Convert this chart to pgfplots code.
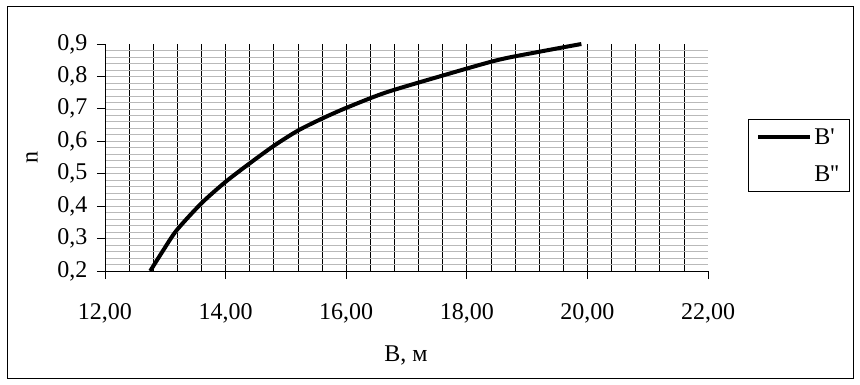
\documentclass[border=0pt]{standalone}
\usepackage{fontspec}
\setmainfont{Liberation Serif}[Ligatures=TeXOff]
\usepackage{pgfplots}
\pgfplotsset{compat=1.18}
\begin{document}
\begin{tikzpicture}[x=1bp,y=1bp]
\useasboundingbox (-105bp,-114bp) rectangle (755bp,271bp);
\draw[line width=0.8bp] (-98bp,-107bp) rectangle (748bp,265bp);
\begin{axis}[
  at={(0bp,0bp)}, anchor=origin,
  scale only axis, width=603bp, height=227bp,
  xmin=12, xmax=22, ymin=0.2, ymax=0.9,
  axis lines*=left,
  axis line style={line width=0.8bp},
  xtick={12,14,...,22}, ytick={0.2,0.3,...,0.9},
  minor xtick={12.4,12.8,13.2,13.6,14,14.4,14.8,15.2,15.6,16,16.4,16.8,17.2,17.6,18,18.4,18.8,19.2,19.6,20,20.4,20.8,21.2,21.6},
  minor ytick={0.22,0.24,0.26,0.28,0.30,0.32,0.34,0.36,0.38,0.40,0.42,0.44,0.46,0.48,0.50,0.52,0.54,0.56,0.58,0.60,0.62,0.64,0.66,0.68,0.70,0.72,0.74,0.76,0.78,0.80,0.82,0.84,0.86,0.88},
  major grid style={draw=none},
  minor x grid style={black, line width=0.7bp},
  minor y grid style={gray!55, line width=0.7bp},
  xminorgrids=true, yminorgrids=true,
  tick align=outside,
  major tick length=8bp, minor tick length=0pt,
  tick style={black, line width=0.8bp},
  xticklabel style={/pgf/number format/use comma, /pgf/number format/fixed, /pgf/number format/fixed zerofill, /pgf/number format/precision=2, /pgf/number format/1000 sep={}, yshift=-21bp},
  yticklabel style={/pgf/number format/use comma, /pgf/number format/fixed, /pgf/number format/fixed zerofill, /pgf/number format/precision=1, xshift=-6bp},
  /pgf/number format/assume math mode=true,
  ticklabel style={font=\fontsize{24bp}{28bp}\selectfont},
  label style={font=\fontsize{24bp}{28bp}\selectfont},
  xlabel={B, м},
  xlabel style={at={(axis description cs:0.499,0)}, anchor=center, yshift=-84bp},
  ylabel={n},
  ylabel style={at={(axis description cs:-0.121,0.502)}, anchor=center, rotate=0},
  legend style={at={(axis description cs:1.0663,0.6696)}, anchor=north west,
    draw=black, line width=0.8bp, inner xsep=8bp, inner ysep=7bp, row sep=16bp,
    font=\fontsize{24bp}{28bp}\selectfont,
    /tikz/every even column/.append style={column sep=0bp}},
  legend cell align=left,
  legend image code/.code={\draw[#1] (0bp,0bp) -- (52bp,0bp);},
  clip=false,
]
\addplot[black, line width=4bp, smooth, tension=0.45] coordinates {
(12.75,0.20) (12.97,0.265) (13.19,0.326) (13.60,0.409) (14.00,0.475)
(14.40,0.532) (14.80,0.586) (15.20,0.633) (15.60,0.670) (16.00,0.703) (16.65,0.750)
(17.55,0.800) (18.50,0.850) (19.20,0.876) (19.90,0.900)
};
\addlegendentry{B'}
\addlegendimage{legend image code/.code={}}
\addlegendentry{B''}
\end{axis}
\end{tikzpicture}
\end{document}
